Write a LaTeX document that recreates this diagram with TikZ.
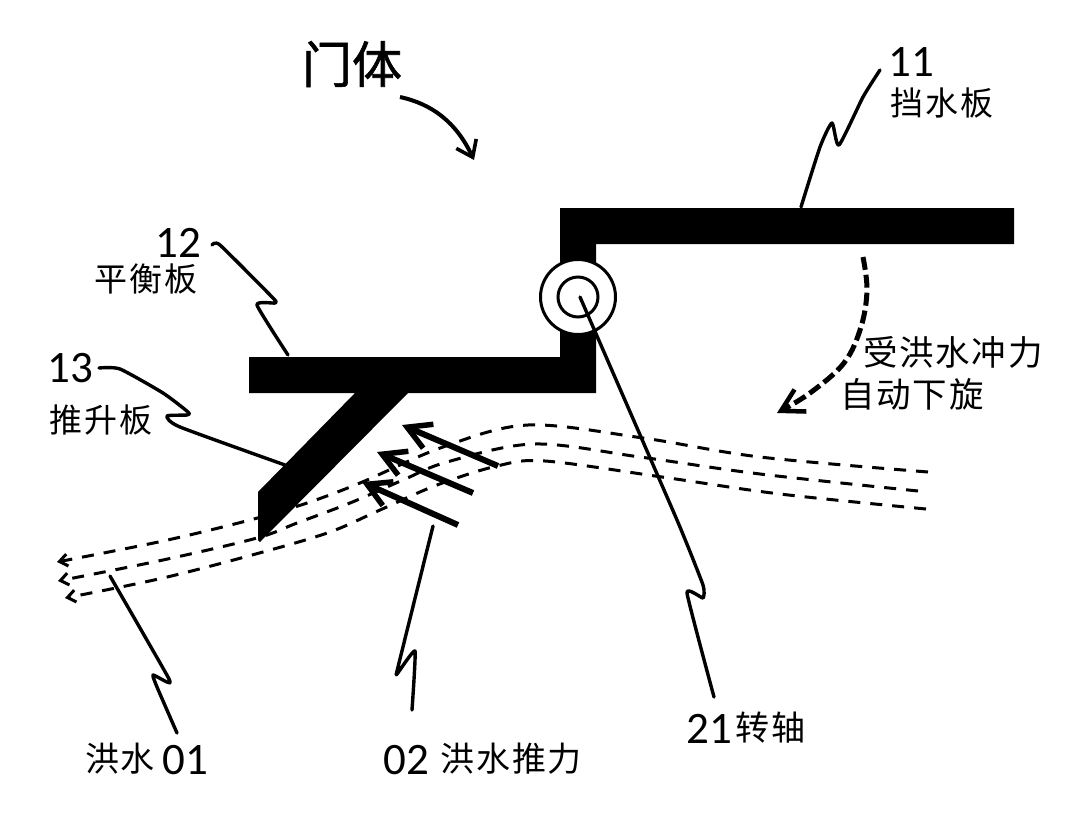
\documentclass[tikz,border=0pt]{standalone}
\usepackage{fontspec}
\setmainfont{Carlito}
\newfontfamily\cjk[LetterSpace=5]{Noto Sans CJK SC}
\newfontfamily\cjkheavy[FakeBold=1.2]{Noto Sans CJK SC}
\usetikzlibrary{arrows.meta}
\tikzset{
  plate/.style={fill=black,draw=none},
  leader/.style={draw=black,line width=3.4pt,line cap=round,line join=round},
  floodline/.style={draw=black,line width=3pt,dash pattern=on 12pt off 10pt,
     -{Straight Barb[length=8pt,width=12pt,line width=3pt]}},
  thrust/.style={draw=black,line width=6pt,
     -{Straight Barb[length=23pt,width=26pt,line width=5.5pt]}},
  turn/.style={draw=black,line width=5pt,dash pattern=on 13pt off 5pt,
     -{Straight Barb[length=22pt,width=25pt,line width=4.5pt]}},
  doorarrow/.style={draw=black,line width=4pt,-{Straight Barb[length=15pt,width=22pt,line width=3.6pt]}},
  axisring/.style={circle,draw=black,fill=white,line width=3pt,inner sep=0pt},
  dig/.style={inner sep=0pt,font=\fontsize{45}{45}\selectfont},
  cn/.style={inner sep=0pt,font=\fontsize{33}{33}\selectfont\cjk},
  cnbig/.style={inner sep=0pt,font=\fontsize{34.5}{34.5}\selectfont\cjk},
  mixed/.style={inner sep=0pt,anchor=base west,font=\fontsize{45}{45}\selectfont}
}
\newcommand{\cnpart}[1]{\raisebox{3pt}{\fontsize{34}{34}\selectfont\cjk #1}}
\begin{document}
\begin{tikzpicture}[x=1pt,y=-1pt]
\useasboundingbox (0,0) rectangle (1080,828);
\fill[white] (0,0) rectangle (1080,828);

% flood lines
\coordinate (ft0) at (928,472); \coordinate (ft1) at (57,562);
\coordinate (fm0) at (918,491); \coordinate (fm1) at (58,581);
\coordinate (fb0) at (926,509); \coordinate (fb1) at (65,598);
\draw[floodline] plot[smooth,tension=.55] coordinates {(ft0) (760,457) (643,438) (528,425) (443,447) (360,483) (307,503) (250,520) (163,541) (ft1)};
\draw[floodline] plot[smooth,tension=.55] coordinates {(fm0) (760,474) (640,457) (534,444) (447,462) (403,480) (350,503) (297,523) (257,538) (163,560) (fm1)};
\draw[floodline] plot[smooth,tension=.55] coordinates {(fb0) (780,494) (662,477) (545,461) (497,466) (437,485) (380,510) (330,532) (263,552) (163,578) (fb1)};

% door body
\path[plate] (560,208) -- (1014,208) -- (1014,244) -- (596,244) -- (596,393) -- (408,393)
  -- (260,542) -- (258,540) -- (258,492) -- (355,393) -- (249,393) -- (249,357) -- (560,357) -- cycle;
\node[axisring,minimum size=75pt] (ringout) at (578,297) {};
\node[axisring,minimum size=40pt] (ringin) at (578,297) {};

% thrust arrows
\coordinate (a1s) at (498,466); \coordinate (a1e) at (402,425);
\coordinate (a2s) at (473,493); \coordinate (a2e) at (377,452);
\coordinate (a3s) at (458,525); \coordinate (a3e) at (362,482);
\draw[thrust] (a1s) -- (a1e);
\draw[thrust] (a2s) -- (a2e);
\draw[thrust] (a3s) -- (a3e);

% rotation arrow
\coordinate (r0) at (863,257); \coordinate (r1) at (777,413);
\draw[turn] plot[smooth,tension=.6] coordinates {(r0) (867,290) (861,327) (844,363) (810,393) (r1)};

% door-body arrow
\coordinate (d0) at (400,97); \coordinate (d1) at (474,160);
\draw[doorarrow] (d0) .. controls (432,104) and (456,122) .. (d1);

% labels
\node[inner sep=0pt,font=\fontsize{50}{50}\selectfont\cjkheavy] (door) at (352,64) {门体};
\node[dig] (n11) at (911,62) {11};
\node[cn] (t11) at (942,103) {挡水板};
\node[dig] (n12) at (178,243) {12};
\node[cn] (t12) at (146,279) {平衡板};
\node[dig] (n13) at (70,368) {13};
\node[cn] (t13) at (101,420) {推升板};
\node[cnbig] (trot1) at (953,352) {受洪水冲力};
\node[cnbig] (trot2) at (912,394) {自动下旋};
\node[mixed] (n01) at (85,774) {\cnpart{洪水}\hspace{8pt}01};
\node[mixed] (n02) at (383,774) {02\hspace{12pt}\cnpart{洪水推力}};
\node[mixed] (n21) at (686,743) {21\hspace{4pt}\cnpart{转轴}};

% leaders
\coordinate (l11) at (880,70);  \coordinate (p11) at (801,207);
\draw[leader] plot[smooth,tension=.35] coordinates {(l11) (863,97) (839,145) (832,123) (820,147) (p11)};
\coordinate (l12) at (212,245); \coordinate (p12) at (288,355);
\draw[leader] plot[smooth,tension=.3] coordinates {(l12) (220,245) (273,298) (275,303) (257,305) (p12)};
\coordinate (l13) at (99,368);  \coordinate (p13) at (285,465);
\draw[leader] plot[smooth,tension=.35] coordinates {(l13) (120,369) (163,393) (188,412) (187,415) (167,416) (180,427) (p13)};
\coordinate (l01) at (110,576); \coordinate (p01) at (177,733);
\draw[leader] plot[smooth,tension=.3] coordinates {(l01) (168,677) (167,682) (153,675) (157,687) (p01)};
\coordinate (l02) at (433,526); \coordinate (p02) at (412,710);
\draw[leader] plot[smooth,tension=.25] coordinates {(l02) (398,667) (397,674) (415,651) (p02)};
\coordinate (l21) at (580,297); \coordinate (p21) at (714,697);
\draw[leader] plot[smooth,tension=.25] coordinates {(l21) (677,520) (703,585) (703,598) (687,593) (p21)};
\end{tikzpicture}
\end{document}
